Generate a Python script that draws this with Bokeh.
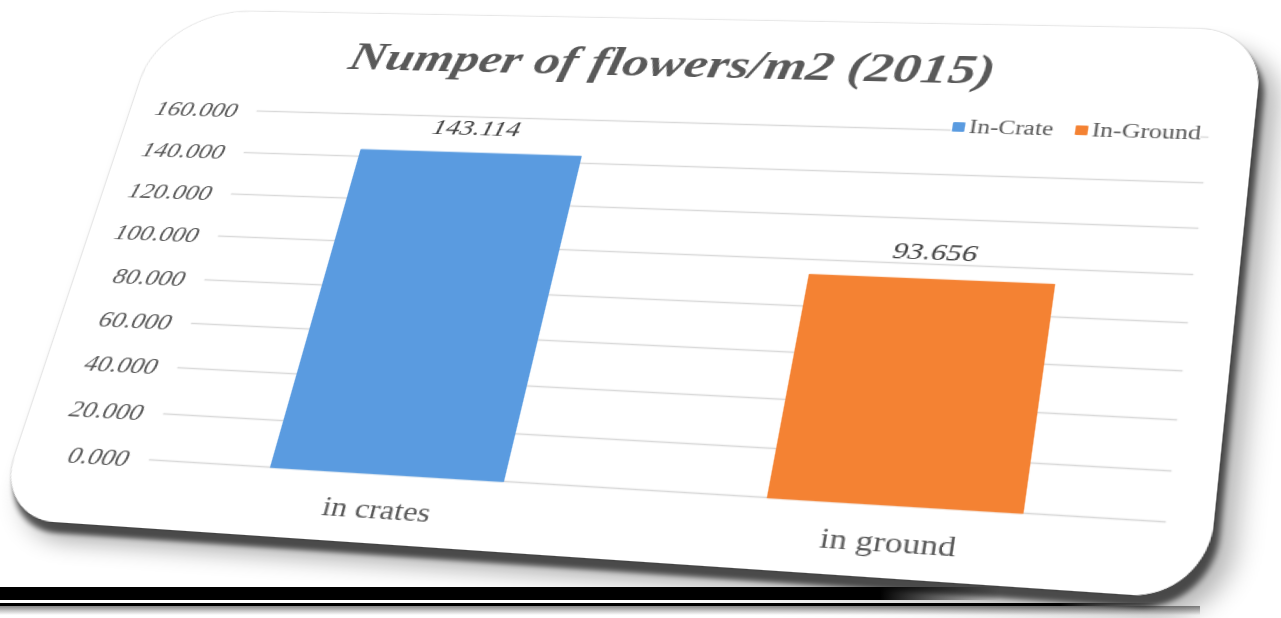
import numpy as np
from bokeh.plotting import figure
from bokeh.layouts import column
from bokeh.models import ColumnDataSource, FixedTicker, NumeralTickFormatter, InlineStyleSheet
from bokeh.core.properties import value
from bokeh.embed import file_html
from bokeh.resources import INLINE

# ---- data ----
categories = ["in crates", "in ground"]
series_names = ["In-Crate", "In-Ground"]
values = [143.114, 93.656]
bar_colors = ["#5a9be0", "#f48233"]
y_ticks = [0, 20, 40, 60, 80, 100, 120, 140, 160]
chart_title = "Numper of flowers/m2 (2015)"

SERIF = "Liberation Serif"
GREY = "#595959"

# ---- geometry: the chart card is drawn flat on a W x H canvas and then
# tilted onto the page with a projective (perspective) transform ----
W, H = 940, 540
card_on_page = [(164, 10), (1264, 30), (1206, 600), (-6, 518)]
# corners of the 0..160 value band on the page
frame_on_page = [(258, 108), (1210, 133), (1165, 525), (148, 457)]
title_on_page = (353, 47)
legend_on_page = ((952, 126), (1195, 126))
# a little headroom so the outer gridlines and the legend are not clipped
y_pad_top, y_pad_bottom = 9.0, 0.8


def homography(src, dst):
    rows, rhs = [], []
    for (x, y), (u, v) in zip(src, dst):
        rows.append([x, y, 1, 0, 0, 0, -u * x, -u * y]); rhs.append(u)
        rows.append([0, 0, 0, x, y, 1, -v * x, -v * y]); rhs.append(v)
    h = np.linalg.solve(np.array(rows, float), np.array(rhs, float))
    return np.append(h, 1.0).reshape(3, 3)


H_page = homography([(0, 0), (W, 0), (W, H), (0, H)], card_on_page)
H_inv = np.linalg.inv(H_page)


def to_canvas(pt):
    v = H_inv @ np.array([pt[0], pt[1], 1.0])
    return v[0] / v[2], v[1] / v[2]


fc = [to_canvas(q) for q in frame_on_page]
f_left = (fc[0][0] + fc[3][0]) / 2
f_right = (fc[1][0] + fc[2][0]) / 2
band_top = (fc[0][1] + fc[1][1]) / 2
band_bottom = (fc[2][1] + fc[3][1]) / 2
px_per_unit = (band_bottom - band_top) / (y_ticks[-1] - y_ticks[0])
f_top = band_top - y_pad_top * px_per_unit
f_bottom = band_bottom + y_pad_bottom * px_per_unit

source = ColumnDataSource(dict(
    cat=categories,
    val=values,
    color=bar_colors,
    series=series_names,
    label=[f"{v:.3f}" for v in values],
))

p = figure(
    width=W, height=H, sizing_mode="fixed",
    x_range=categories,
    y_range=(y_ticks[0] - y_pad_bottom, y_ticks[-1] + y_pad_top),
    min_border_left=int(round(f_left)),
    min_border_right=int(round(W - f_right)),
    min_border_top=int(round(f_top)),
    min_border_bottom=int(round(H - f_bottom)),
    output_backend="svg", toolbar_location=None,
    background_fill_color="white", border_fill_color="white",
    outline_line_color=None,
)

# bars + value labels
p.vbar(x="cat", top="val", width=0.48, color="color", source=source,
       legend_field="series")
p.text(x="cat", y="val", text="label", source=source,
       text_align="center", text_baseline="bottom", y_offset=-19,
       text_font=value(SERIF), text_font_style="italic",
       text_font_size="24px", text_color="#404040")

# title
tx, ty = to_canvas(title_on_page)
p.title.text = chart_title
p.title.text_font = SERIF
p.title.text_font_style = "bold italic"
p.title.text_font_size = "45px"
p.title.text_color = GREY
p.title.align = "left"
p.title.offset = tx - f_left
p.title.standoff = max(0, (f_top - ty) - 0.22 * 45)

# axes
p.yaxis.ticker = FixedTicker(ticks=y_ticks)
p.yaxis.formatter = NumeralTickFormatter(format="0.000")
for ax in (p.xaxis, p.yaxis):
    ax.axis_line_color = None
    ax.major_tick_line_color = None
    ax.minor_tick_line_color = None
    ax.major_tick_in = 0
    ax.major_tick_out = 0
    ax.major_label_text_font = SERIF
    ax.major_label_text_color = GREY
p.yaxis.major_label_text_font_size = "23px"
p.yaxis.major_label_text_font_style = "italic"
p.yaxis.major_label_standoff = 17
p.xaxis.major_label_text_font_size = "26px"
p.xaxis.major_label_standoff = 17

p.xgrid.grid_line_color = None
p.ygrid.ticker = FixedTicker(ticks=y_ticks)
p.ygrid.grid_line_color = "#d9d9d9"
p.ygrid.grid_line_width = 1.3

# legend sitting on the top gridline, right side
lg = p.legend[0]
lg.orientation = "horizontal"
lg.label_text_font = SERIF
lg.label_text_font_size = "20px"
lg.label_text_color = GREY
lg.glyph_width = 11
lg.glyph_height = 11
lg.label_standoff = 3
lg.spacing = 16
lg.padding = 4
lg.margin = 0
lg.border_line_color = None
lg.background_fill_color = "white"
lg.background_fill_alpha = 1.0
(lx, ly) = to_canvas(legend_on_page[0])
(rx, ry) = to_canvas(legend_on_page[1])
legend_h = 31
lg.location = (lx - f_left, f_bottom - ((ly + ry) / 2 + legend_h / 2))

# card styling and the page tilt (applied to the drawing surface inside the figure)
a = H_page / H_page[2, 2]
m = [a[0, 0], a[1, 0], 0, a[2, 0],
     a[0, 1], a[1, 1], 0, a[2, 1],
     0, 0, 1, 0,
     a[0, 2], a[1, 2], 0, a[2, 2]]
card_css = f"""
.bk-Canvas {{
  transform: matrix3d({",".join(f"{v:.10g}" for v in m)});
  transform-origin: 0 0;
  border-radius: 82px 50px 53px 53px / 80px 62px 66px 60px;
  overflow: hidden;
  box-shadow: 0 0 2px rgba(0,0,0,0.35), 5px 10px 4px rgba(0,0,0,0.6), 16px 18px 20px rgba(0,0,0,0.3);
}}
"""
p.stylesheets = [InlineStyleSheet(css=card_css)]

page_bg = ("linear-gradient(to right, #000 0px, #000 880px, rgba(0,0,0,0) 1000px) 0 587px / 1281px 13px no-repeat, "
           "linear-gradient(to right, #000 0px, #000 1060px, rgba(0,0,0,0) 1160px) 0 603px / 1281px 3px no-repeat, "
           "linear-gradient(to bottom, #8a8a8a, #ffffff) 0 606px / 1200px 9px no-repeat, "
           "#ffffff")

root = column(p, styles={"background": page_bg, "overflow": "hidden",
                         "width": "1281px", "height": "618px"})

with open("out.html", "w") as f:
    f.write(file_html(root, INLINE, title=chart_title))
